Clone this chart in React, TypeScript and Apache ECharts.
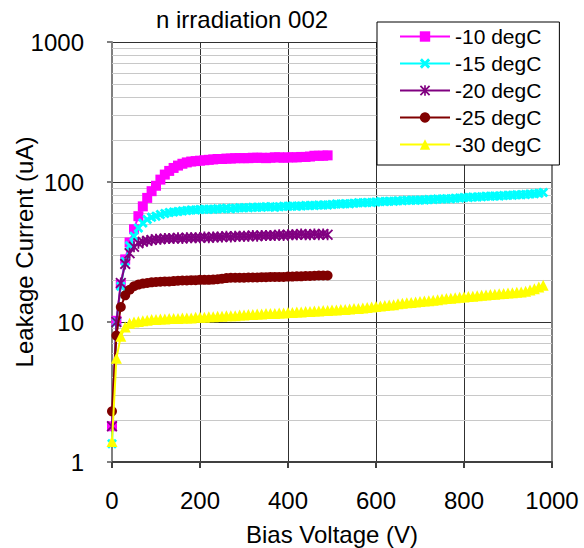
import React, { useEffect, useRef } from "react";
import * as echarts from "echarts";

const FONT = '"Liberation Sans", Arial, Helvetica, sans-serif';

const chartTitle = "n irradiation 002";
const xAxisName = "Bias Voltage (V)";
const yAxisName = "Leakage Current (uA)";
const seriesNames = ["-10 degC", "-15 degC", "-20 degC", "-25 degC", "-30 degC"];
const seriesColors = ["#FF00FF", "#00FFFF", "#800080", "#800000", "#FFFF00"];

const voltsLong = [
  0, 10, 20, 30, 40, 50, 60, 70, 80, 90,
  100, 110, 120, 130, 140, 150, 160, 170, 180, 190,
  200, 210, 220, 230, 240, 250, 260, 270, 280, 290,
  300, 310, 320, 330, 340, 350, 360, 370, 380, 390,
  400, 410, 420, 430, 440, 450, 460, 470, 480, 490,
  500, 510, 520, 530, 540, 550, 560, 570, 580, 590,
  600, 610, 620, 630, 640, 650, 660, 670, 680, 690,
  700, 710, 720, 730, 740, 750, 760, 770, 780, 790,
  800, 810, 820, 830, 840, 850, 860, 870, 880, 890,
  900, 910, 920, 930, 940, 950, 960, 970, 980,
];
const voltsShort = voltsLong.slice(0, 50);

const currentM10 = [
  1.8, 10.2, 18.5, 28, 37, 46, 57, 67, 77, 86,
  94, 104, 113, 120, 126, 131, 135, 138, 140, 141,
  142, 143, 144, 145, 146, 146, 147, 147, 148, 148,
  148, 148, 149, 149, 149, 148, 149, 150, 150, 149,
  150, 150, 150, 151, 151, 152, 154, 154, 154, 155,
];

const currentM15 = [
  1.35, 10, 18, 27, 35, 41, 47, 51, 54, 56,
  57, 58.5, 59.5, 60.5, 61, 61.5, 62, 62.5, 63, 63,
  63.5, 64, 64, 64, 64.5, 64.5, 65, 64.5, 65, 65.5,
  65.5, 65.5, 66, 66, 66, 66.5, 66.5, 66, 66.5, 67,
  67, 67.5, 67, 67.5, 68, 68, 68, 68.5, 68.5, 68.5,
  69, 69.5, 69.5, 70, 70, 70.5, 71, 71, 71.5, 71.5,
  72, 72.5, 72.5, 73, 73, 73.5, 73.5, 74, 74, 74,
  74.5, 74.5, 75, 75, 75.5, 75.5, 76, 76, 76.5, 77,
  77.5, 77.5, 78, 78, 78.5, 79, 79, 79.5, 79.5, 80,
  80.5, 80.5, 81, 81, 81.5, 82, 82.5, 83, 84,
];

const currentM20 = [
  1.8, 10, 19, 26, 31, 34.5, 36.5, 37.5, 38, 38.5,
  39, 39, 39.5, 39.5, 39.5, 40, 39.5, 40, 40, 40,
  40, 40.5, 40, 40.5, 40.5, 40.5, 41, 40.5, 41, 41,
  41, 41, 41.5, 41, 41.5, 41.5, 41.5, 41.5, 42, 41.5,
  42, 42, 42, 42.5, 42, 42, 42.5, 42, 42.5, 42,
];

const currentM25 = [
  2.3, 8, 12.8, 15.5, 17, 18, 18.5, 18.8, 19, 19.2,
  19.3, 19.4, 19.5, 19.5, 19.6, 19.7, 19.8, 19.8, 19.9, 19.9,
  20, 20, 20, 20.1, 20.2, 20.4, 20.6, 20.7, 20.7, 20.7,
  20.7, 20.8, 20.8, 20.8, 20.9, 20.9, 21, 21, 21, 21,
  21.1, 21.1, 21.2, 21.2, 21.3, 21.3, 21.4, 21.5, 21.5, 21.5,
];

const currentM30 = [
  1.4, 5.5, 7.9, 9.2, 9.8, 10, 10.1, 10.2, 10.3, 10.4,
  10.4, 10.5, 10.5, 10.6, 10.6, 10.6, 10.7, 10.7, 10.7, 10.8,
  10.8, 10.8, 10.9, 10.9, 11, 11, 11.1, 11.1, 11.1, 11.2,
  11.2, 11.3, 11.3, 11.4, 11.4, 11.5, 11.5, 11.5, 11.6, 11.6,
  11.7, 11.7, 11.8, 11.8, 11.9, 11.9, 12, 12, 12.1, 12.1,
  12.2, 12.2, 12.3, 12.3, 12.4, 12.5, 12.5, 12.6, 12.7, 12.8,
  12.9, 13, 13.1, 13.2, 13.3, 13.5, 13.6, 13.7, 13.8, 13.9,
  14, 14.1, 14.2, 14.3, 14.4, 14.6, 14.7, 14.8, 14.9, 15,
  15.1, 15.2, 15.3, 15.4, 15.5, 15.6, 15.7, 15.8, 15.9, 16,
  16.1, 16.2, 16.3, 16.4, 16.6, 16.9, 17.3, 17.8, 18.3,
];

const minorGridValues = [
  2, 3, 4, 5, 6, 7, 8, 9,
  20, 30, 40, 50, 60, 70, 80, 90,
  200, 300, 400, 500, 600, 700, 800, 900,
];

const CROSS =
  "path://M2,0 L5,3 L8,0 L10,2 L7,5 L10,8 L8,10 L5,7 L2,10 L0,8 L3,5 L0,2 Z";
const ASTERISK =
  "path://M1.2,0 L5,3.8 L8.8,0 L10,1.2 L6.2,5 L10,8.8 L8.8,10 L5,6.2 L1.2,10 L0,8.8 L3.8,5 L0,1.2 Z M4.2,0 L5.8,0 L5.8,10 L4.2,10 Z";

const seriesSymbols = ["rect", CROSS, ASTERISK, "circle", "triangle"];
const seriesSymbolSizes = [10, 10, 11, 10, 11];

function pairs(xs: number[], ys: number[]) {
  return ys.map((y, i) => [xs[i], y]);
}

export default function App() {
  const ref = useRef<HTMLDivElement>(null);

  useEffect(() => {
    if (!ref.current) return;
    const chart = echarts.init(ref.current, undefined, { renderer: "svg" });

    const dataSets = [
      pairs(voltsShort, currentM10),
      pairs(voltsLong, currentM15),
      pairs(voltsShort, currentM20),
      pairs(voltsShort, currentM25),
      pairs(voltsLong, currentM30),
    ];

    const dataSeries = seriesNames.map((name, i) => ({
      name,
      type: "line",
      data: dataSets[i],
      symbol: seriesSymbols[i],
      symbolSize: seriesSymbolSizes[i],
      showAllSymbol: true,
      color: seriesColors[i],
      itemStyle: { color: seriesColors[i] },
      lineStyle: { color: seriesColors[i], width: 2 },
      emphasis: { disabled: true },
      z: 2 + i * 0.01,
    }));

    const option: any = {
      animation: false,
      backgroundColor: "#ffffff",
      title: {
        text: chartTitle,
        left: 156,
        top: 7,
        padding: 0,
        textStyle: {
          fontFamily: FONT,
          fontSize: 24,
          fontWeight: "normal",
          color: "#000000",
        },
      },
      legend: {
        data: seriesNames,
        orient: "vertical",
        left: 377,
        top: 22,
        padding: [4, 18, 10, 22],
        itemWidth: 50,
        itemHeight: 13,
        itemGap: 6,
        backgroundColor: "#ffffff",
        borderColor: "#000000",
        borderWidth: 1,
        borderRadius: 0,
        selectedMode: false,
        textStyle: { fontFamily: FONT, fontSize: 21, color: "#000000" },
      },
      grid: {
        left: 112,
        right: 32,
        top: 42,
        bottom: 86,
        show: false,
        containLabel: false,
        outerBoundsMode: "none",
      },
      xAxis: {
        type: "value",
        min: 0,
        max: 1000,
        interval: 200,
        name: xAxisName,
        nameLocation: "middle",
        nameGap: 60,
        nameMoveOverlap: false,
        nameTextStyle: { fontFamily: FONT, fontSize: 24, color: "#000000" },
        axisLine: { show: true, onZero: false, lineStyle: { color: "#404040", width: 2 } },
        axisTick: { show: true, inside: false, length: 6, lineStyle: { color: "#404040", width: 2 } },
        axisLabel: {
          margin: 26,
          fontFamily: FONT,
          fontSize: 24,
          color: "#000000",
          formatter: (v: number) => String(v),
        },
        splitLine: { show: true, lineStyle: { color: "#303030", width: 1 } },
      },
      yAxis: [
        {
          type: "log",
          logBase: 10,
          min: 1,
          max: 1000,
          name: yAxisName,
          nameLocation: "middle",
          nameGap: 76,
          nameMoveOverlap: false,
          nameTextStyle: { fontFamily: FONT, fontSize: 24, color: "#000000" },
          axisLine: { show: true, onZero: false, lineStyle: { color: "#808080", width: 2 } },
          axisTick: { show: true, inside: false, length: 5, lineStyle: { color: "#808080", width: 2 } },
          axisLabel: {
            margin: 28,
            fontFamily: FONT,
            fontSize: 24,
            color: "#000000",
            formatter: (v: number) => String(Math.round(v)),
          },
          splitLine: { show: true, lineStyle: { color: "#303030", width: 1 } },
        },
        {
          type: "log",
          logBase: 10,
          min: 1,
          max: 1000,
          position: "right",
          axisLine: { show: true, onZero: false, lineStyle: { color: "#808080", width: 2 } },
          axisTick: { show: false },
          axisLabel: { show: false },
          splitLine: { show: false },
        },
      ],
      series: [
        {
          name: "minor-grid",
          type: "line",
          data: [],
          silent: true,
          z: 1,
          markLine: {
            silent: true,
            z: 1,
            symbol: ["none", "none"],
            label: { show: false },
            emphasis: { disabled: true },
            lineStyle: { color: "#c8c8c8", width: 1, type: "solid" },
            data: minorGridValues.map((v) => ({ yAxis: v })),
          },
        },
        ...dataSeries,
      ],
    };

    chart.setOption(option);
    return () => chart.dispose();
  }, []);

  return (
    <div
      ref={ref}
      style={{ position: "fixed", left: 0, top: 0, width: 584, height: 548, background: "#fff" }}
    />
  );
}
